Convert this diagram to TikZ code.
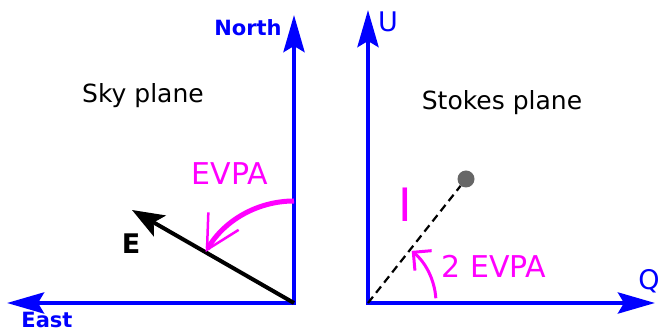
\documentclass[tikz,border=0pt]{standalone}
\usepackage{fontspec}
\setmainfont{DejaVu Sans}
\usepackage{xcolor}
\usepackage{tikz}
\usetikzlibrary{arrows.meta,positioning,calc}
\definecolor{AxisBlue}{HTML}{0000FF}
\definecolor{EvpaPink}{HTML}{FF00FF}
\definecolor{DotGray}{HTML}{666666}

\begin{document}
\begin{tikzpicture}[
  x=1pt,y=1pt,
  axis/.style={line width=4.5pt,AxisBlue,{Stealth[length=37pt,width=21pt,inset=6pt]}-{Stealth[length=37pt,width=21pt,inset=6pt]}},
  evec/.style={line width=4pt,black,-{Stealth[length=32pt,width=24pt,inset=7pt]}},
  evpa/.style={line width=5pt,EvpaPink},
  axislabel/.style={inner sep=0pt,text=AxisBlue,font=\fontsize{21}{25}\selectfont\bfseries},
  stokeslabel/.style={inner sep=0pt,text=AxisBlue,font=\fontsize{27}{32}\selectfont},
  plane/.style={inner sep=0pt,font=\fontsize{25}{30}\selectfont},
  angle/.style={inner sep=0pt,text=EvpaPink,font=\fontsize{30}{36}\selectfont}
]
\useasboundingbox (0,0) rectangle (659,334);

% sky plane
\coordinate (skyO) at (294,31);
\coordinate (north) at (294,319);
\coordinate (east) at (7,31);
\coordinate (etip) at (132,124);
\draw[axis] (north) -- (skyO) -- (east);
\draw[evec] (skyO) -- (etip);
\draw[evpa,-{Straight Barb[length=33pt,width=35pt,line width=2.5pt]}]
  ([shift={(90:102)}]skyO) arc[start angle=90,end angle=150,radius=102];
\node[axislabel] (northlbl) at (248,306) {North};
\node[axislabel] (eastlbl) at (47,14) {East};
\node[plane] (skylbl) at (143,238) {Sky plane};
\node[angle] (evpalbl) at (230,160) {EVPA};
\node[inner sep=0pt,font=\fontsize{27}{32}\selectfont\bfseries] (elbl) at (131,90) {E};

% Stokes plane
\coordinate (stokesO) at (368,31);
\coordinate (utip) at (368,324);
\coordinate (qtip) at (655,31);
\draw[axis] (utip) -- (stokesO) -- (qtip);
\node[circle,fill=DotGray,inner sep=0pt,minimum size=17pt] (pol) at (466,155) {};
\draw[line width=2.2pt,dash pattern=on 8pt off 5pt] (stokesO) -- (pol);
\draw[line width=3pt,EvpaPink,-{Straight Barb[length=13pt,width=26pt]}]
  ([shift={(4:68)}]stokesO) arc[start angle=4,end angle=50,radius=68];
\node[stokeslabel] (ulbl) at (388,312) {U};
\node[stokeslabel] (qlbl) at (649,53) {Q};
\node[plane] (stokeslbl) at (502,231) {Stokes plane};
\node[inner sep=0pt,text=EvpaPink,font=\fontsize{46}{54}\selectfont] (ilbl) at (405,129) {I};
\node[angle] (twoevpa) at (494,68) {2 EVPA};
\end{tikzpicture}
\end{document}
